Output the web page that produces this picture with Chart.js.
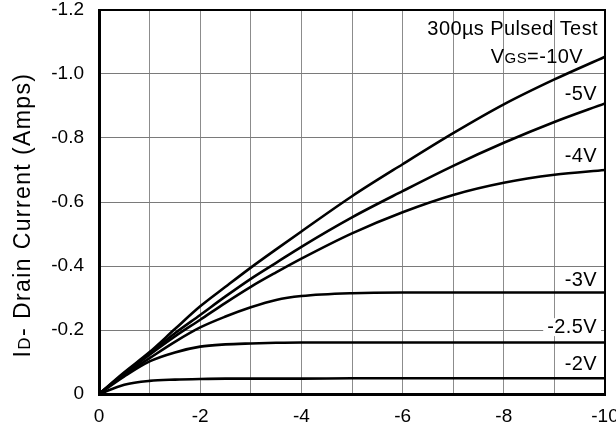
<!DOCTYPE html>
<html>
<head>
<meta charset="utf-8">
<script src="https://cdn.jsdelivr.net/npm/chart.js@4.4.0/dist/chart.umd.min.js"></script>
<style>
  html, body { margin: 0; padding: 0; background: #fff; }
</style>
</head>
<body>
<canvas id="ivChart" width="616" height="431"></canvas>
<script>
// drain-source voltage (V) and drain current (A) for each gate voltage
const vds   = [0, -0.5, -1, -1.5, -2, -2.5, -3, -3.5, -4, -5, -6, -7, -8, -9, -10];
const idG10 = [0, -0.068, -0.131, -0.203, -0.274, -0.335, -0.395, -0.452, -0.508, -0.618, -0.718, -0.815, -0.905, -0.983, -1.054];
const idG5  = [0, -0.065, -0.127, -0.190, -0.247, -0.305, -0.360, -0.410, -0.460, -0.552, -0.634, -0.713, -0.785, -0.850, -0.908];
const idG4  = [0, -0.063, -0.123, -0.180, -0.232, -0.285, -0.335, -0.380, -0.423, -0.502, -0.568, -0.622, -0.660, -0.685, -0.700];
const idG3  = [0, -0.060, -0.112, -0.163, -0.208, -0.242, -0.271, -0.294, -0.306, -0.315, -0.317, -0.317, -0.317, -0.317, -0.317];
const idG25 = [0, -0.055, -0.102, -0.130, -0.148, -0.155, -0.158, -0.160, -0.161, -0.161, -0.161, -0.161, -0.161, -0.161, -0.161];
const idG2  = [0, -0.029, -0.041, -0.045, -0.047, -0.048, -0.048, -0.048, -0.048, -0.049, -0.049, -0.049, -0.049, -0.049, -0.049];

const curveNames = ['-10V', '-5V', '-4V', '-3V', '-2.5V', '-2V'];
const curveData  = [idG10, idG5, idG4, idG3, idG25, idG2];

// curve labels: text and the current they sit at (right side of plot)
const labelTexts = ['-5V', '-4V', '-3V', '-2.5V', '-2V'];
const labelAmps  = [-0.937, -0.742, -0.356, -0.209, -0.091];

const xTicks = [0, -2, -4, -6, -8, -10];
const FONT = "'Liberation Sans', Arial, sans-serif";

const datasets = curveData.map((arr, i) => ({
    label: curveNames[i],
    data: vds.map((v, k) => ({ x: v, y: arr[k] })),
    borderColor: '#000',
    borderWidth: 2.6,
    pointRadius: 0,
    fill: false,
    cubicInterpolationMode: 'monotone'
}));

const textPlugin = {
    id: 'textPlugin',
    beforeDatasetsDraw(chart) {
        const ctx = chart.ctx;
        const a = chart.chartArea;
        ctx.save();
        ctx.strokeStyle = '#000';
        ctx.lineWidth = 2;
        ctx.beginPath();
        ctx.moveTo(a.left, a.top);
        ctx.lineTo(a.right, a.top);
        ctx.lineTo(a.right, a.bottom);
        ctx.stroke();
        ctx.restore();
    },
    afterDraw(chart) {
        const ctx = chart.ctx;
        const xs = chart.scales.x, ys = chart.scales.y;
        const right = xs.getPixelForValue(-10) - 8;
        ctx.save();
        ctx.fillStyle = '#000';
        ctx.textBaseline = 'middle';
        ctx.letterSpacing = '0.4px';
        ctx.font = '20px ' + FONT;

        labelTexts.forEach((t, i) => {
            const y = ys.getPixelForValue(labelAmps[i]);
            const w = ctx.measureText(t).width;
            if (t === '-2.5V') {
                ctx.fillStyle = '#fff';
                ctx.fillRect(right - w - 4, y - 9, w + 8, 18);
                ctx.fillStyle = '#000';
            }
            ctx.textAlign = 'right';
            ctx.fillText(t, right, y);
        });

        // header text
        ctx.textAlign = 'right';
        ctx.fillText('300\u00b5s Pulsed Test', right + 1, ys.getPixelForValue(-1.139));

        // VGS=-10V with small GS
        const yv = ys.getPixelForValue(-1.057);
        const part3 = '=-10V';
        const w3 = ctx.measureText(part3).width;
        ctx.font = '15px ' + FONT;
        const w2 = ctx.measureText('GS').width;
        ctx.font = '20px ' + FONT;
        const w1 = ctx.measureText('V').width;
        const x0 = right - 14 - w3 - w2 - w1;
        ctx.textAlign = 'left';
        ctx.textBaseline = 'alphabetic';
        const base = yv + 7;
        ctx.fillText('V', x0, base);
        ctx.font = '15px ' + FONT;
        ctx.fillText('GS', x0 + w1, base);
        ctx.font = '20px ' + FONT;
        ctx.fillText(part3, x0 + w1 + w2, base);

        // y axis title, rotated, with subscript D
        ctx.translate(22, 215);
        ctx.rotate(-Math.PI / 2);
        ctx.letterSpacing = '1.4px';
        ctx.font = '23px ' + FONT;
        const tA = 'I', tC = '- Drain Current (Amps)';
        const wa = ctx.measureText(tA).width;
        const wc = ctx.measureText(tC).width;
        ctx.font = '17px ' + FONT;
        const wb = ctx.measureText('D').width;
        const tx = -(wa + wb + wc) / 2;
        ctx.textBaseline = 'alphabetic';
        ctx.font = '23px ' + FONT;
        ctx.fillText(tA, tx, 8);
        ctx.font = '17px ' + FONT;
        ctx.fillText('D', tx + wa, 8);
        ctx.font = '23px ' + FONT;
        ctx.fillText(tC, tx + wa + wb, 8);
        ctx.restore();
    }
};

new Chart(document.getElementById('ivChart'), {
    type: 'line',
    data: { datasets: datasets },
    options: {
        responsive: false,
        animation: false,
        layout: { padding: { left: 0, right: 11, top: 10, bottom: 0 } },
        plugins: { legend: { display: false }, tooltip: { enabled: false } },
        scales: {
            x: {
                type: 'linear',
                min: -10,
                max: 0,
                reverse: true,
                afterBuildTicks: scale => {
                    scale.ticks = [0, -1, -2, -3, -4, -5, -6, -7, -8, -9, -10].map(v => ({ value: v }));
                },
                afterFit: scale => {
                    scale.height = 37;
                    scale.paddingLeft = 0;
                    scale.paddingRight = 0;
                },
                ticks: {
                    padding: 11,
                    maxRotation: 0,
                    autoSkip: false,
                    color: '#000',
                    font: { family: FONT, size: 19 },
                    callback: v => xTicks.includes(v) ? String(v) : ''
                },
                grid: { color: '#8c8c8c', lineWidth: 1, drawTicks: false },
                border: { color: '#000', width: 3 }
            },
            y: {
                type: 'linear',
                min: -1.2,
                max: 0,
                reverse: true,
                afterFit: scale => {
                    scale.width = 99;
                    scale.paddingTop = 0;
                    scale.paddingBottom = 0;
                },
                ticks: {
                    stepSize: 0.2,
                    padding: 15,
                    color: '#000',
                    font: { family: FONT, size: 19 },
                    callback: v => Math.abs(v) < 1e-9 ? '0' : v.toFixed(1)
                },
                grid: { color: '#7a7a7a', lineWidth: 1, drawTicks: false },
                border: { color: '#000', width: 3 }
            }
        }
    },
    plugins: [textPlugin]
});
</script>
</body>
</html>
